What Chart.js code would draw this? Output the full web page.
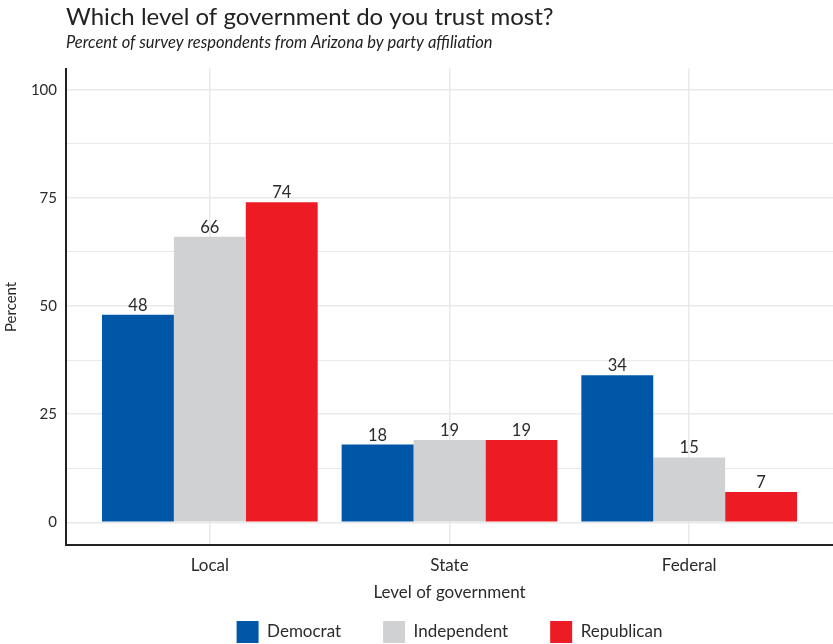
<!DOCTYPE html>
<html>
<head>
<meta charset="utf-8">
<script src="https://cdn.jsdelivr.net/npm/chart.js@4"></script>
<style>
  html, body { margin: 0; padding: 0; background: #fff; }
  #wrap { width: 833px; height: 644px; position: relative; }
</style>
</head>
<body>
<div id="wrap"><canvas id="chart"></canvas></div>
<script>
// chart values
const levels = ['Local', 'State', 'Federal']
const parties = ['Democrat', 'Independent', 'Republican']
const democrat = [48, 18, 34]
const independent = [66, 19, 15]
const republican = [74, 19, 7]
const partyColors = ['#0057a8', '#d0d1d3', '#ed1c24']
const yTicks = [0, 12.5, 25, 37.5, 50, 62.5, 75, 87.5, 100]

const FONT = 'Lato, "Open Sans", sans-serif'
const TEXT = '#2b2b2b'

const seriesValues = [democrat, independent, republican]

// value labels above the bars
const barLabels = {
  id: 'barLabels',
  afterDatasetsDraw(chart) {
    const ctx = chart.ctx
    ctx.save()
    ctx.font = '16.5px ' + FONT
    ctx.fillStyle = TEXT
    ctx.textAlign = 'center'
    ctx.textBaseline = 'bottom'
    chart.data.datasets.forEach((ds, i) => {
      chart.getDatasetMeta(i).data.forEach((bar, j) => {
        ctx.fillText(ds.data[j].y, bar.x, bar.y - 1)
      })
    })
    ctx.restore()
  }
}

new Chart(document.getElementById('chart'), {
  type: 'bar',
  data: {
    datasets: parties.map((p, i) => ({
      label: p,
      data: seriesValues[i].map((v, j) => ({ x: j, y: v })),
      backgroundColor: partyColors[i],
      borderWidth: 0,
      categoryPercentage: 0.9,
      barPercentage: 1
    }))
  },
  plugins: [barLabels],
  options: {
    responsive: true,
    maintainAspectRatio: false,
    animation: false,
    events: [],
    layout: { padding: { top: 3, right: 0, bottom: -9, left: 0 } },
    scales: {
      x: {
        type: 'linear',
        min: -0.6,
        max: 2.6,
        offset: false,
        afterBuildTicks: (scale) => { scale.ticks = levels.map((l, i) => ({ value: i })) },
        ticks: {
          callback: (v) => levels[v],
          font: { family: FONT, size: 17 },
          color: TEXT,
          padding: 10,
          autoSkip: false,
          maxRotation: 0
        },
        grid: { color: '#e9e9e9', lineWidth: 1.5, drawTicks: false, offset: false },
        border: { color: '#222', width: 2 },
        title: {
          display: true,
          text: 'Level of government',
          font: { family: FONT, size: 17 },
          color: TEXT,
          padding: { top: -3, bottom: -24 }
        }
      },
      y: {
        min: -5.3,
        max: 104.9,
        afterBuildTicks: (scale) => { scale.ticks = yTicks.map(v => ({ value: v })) },
        afterFit: (scale) => { scale.width = 66 },
        ticks: {
          callback: (v) => (v % 25 === 0 ? v : ''),
          font: { family: FONT, size: 15 },
          color: TEXT,
          padding: 9
        },
        grid: {
          color: '#e9e9e9',
          lineWidth: (c) => (c.tick && c.tick.value % 25 === 0 ? 1.5 : 1),
          drawTicks: false
        },
        border: { color: '#222', width: 2 },
        title: {
          display: true,
          text: 'Percent',
          font: { family: FONT, size: 15 },
          color: TEXT,
          padding: { top: 2, bottom: 0 }
        }
      }
    },
    plugins: {
      tooltip: { enabled: false },
      title: {
        display: true,
        text: 'Which level of government do you trust most?',
        align: 'start',
        fullSize: false,
        color: '#222',
        font: { family: FONT, size: 24, weight: 'normal' },
        padding: { top: 0, bottom: 0 }
      },
      subtitle: {
        display: true,
        text: 'Percent of survey respondents from Arizona by party affiliation',
        align: 'start',
        fullSize: false,
        color: '#222',
        font: { family: FONT, size: 16.5, style: 'italic' },
        padding: { top: 1, bottom: 16 }
      },
      legend: {
        position: 'bottom',
        fullSize: false,
        labels: {
          boxWidth: 22,
          boxHeight: 22,
          padding: 42,
          color: TEXT,
          font: { family: FONT, size: 17 }
        }
      }
    }
  }
})
</script>
</body>
</html>
